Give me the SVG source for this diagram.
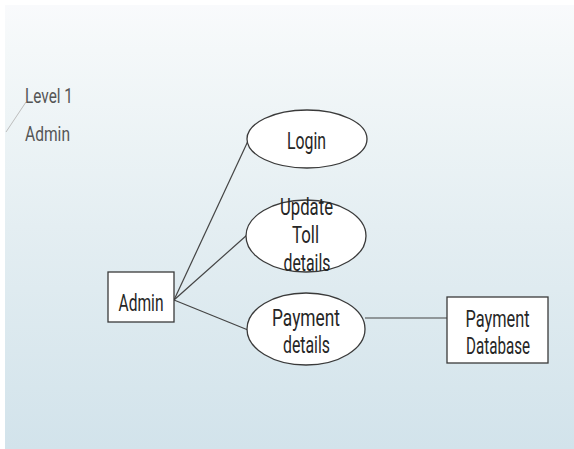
<svg xmlns="http://www.w3.org/2000/svg" width="574" height="449" viewBox="0 0 574 449">
<defs>
<linearGradient id="bg" x1="0" y1="0" x2="0" y2="1">
<stop offset="0" stop-color="#f9fafc"/>
<stop offset="0.1" stop-color="#f4f8f9"/>
<stop offset="0.5" stop-color="#e4eef2"/>
<stop offset="1" stop-color="#d2e3eb"/>
</linearGradient>
</defs>
<style>
.shape{fill:#ffffff;stroke:#3a3a3a;stroke-width:1.3}
.conn{stroke:#444;stroke-width:1.2;fill:none}
text{font-family:Roboto,"Liberation Sans",sans-serif;font-size:23px;fill:#262626}
.c{text-anchor:middle}
</style>
<rect x="0" y="0" width="574" height="449" fill="#ffffff"/>
<rect x="5" y="5" width="569" height="444" fill="url(#bg)"/>
<line x1="26" y1="102" x2="6" y2="132" stroke="#bdbdbd" stroke-width="1"/>
<text x="25" y="103" textLength="48" lengthAdjust="spacingAndGlyphs" style="font-size:21px;fill:#555">Level 1</text>
<text x="25" y="141" textLength="45" lengthAdjust="spacingAndGlyphs" style="font-size:21px;fill:#555">Admin</text>
<g id="connectors">
<line class="conn" x1="174" y1="300" x2="248" y2="141"/>
<line class="conn" x1="174" y1="300" x2="247" y2="235"/>
<line class="conn" x1="174" y1="300" x2="248" y2="330"/>
<line class="conn" x1="365" y1="318" x2="447" y2="318"/>
</g>
<g id="admin">
<rect class="shape" x="108" y="272" width="66" height="50"/>
<text x="141" y="311" class="c" textLength="45" lengthAdjust="spacingAndGlyphs">Admin</text>
</g>
<g id="login">
<ellipse class="shape" cx="307" cy="139" rx="60" ry="29"/>
<text x="306.5" y="148.5" class="c" textLength="39" lengthAdjust="spacingAndGlyphs">Login</text>
</g>
<g id="update">
<ellipse class="shape" cx="306" cy="236" rx="60" ry="36"/>
<text x="306.5" y="214.5" class="c" textLength="53" lengthAdjust="spacingAndGlyphs">Update</text>
<text x="305.5" y="242.5" class="c" textLength="27" lengthAdjust="spacingAndGlyphs">Toll</text>
<text x="307" y="271" class="c" textLength="47" lengthAdjust="spacingAndGlyphs">details</text>
</g>
<g id="payment_details">
<ellipse class="shape" cx="306" cy="329" rx="59" ry="36"/>
<text x="306" y="326" class="c" textLength="68" lengthAdjust="spacingAndGlyphs">Payment</text>
<text x="306.5" y="352.5" class="c" textLength="47" lengthAdjust="spacingAndGlyphs">details</text>
</g>
<g id="payment_database">
<rect class="shape" x="447" y="297" width="101" height="66"/>
<text x="497.5" y="327" class="c" textLength="64" lengthAdjust="spacingAndGlyphs">Payment</text>
<text x="498" y="353.5" class="c" textLength="64" lengthAdjust="spacingAndGlyphs">Database</text>
</g>
</svg>
